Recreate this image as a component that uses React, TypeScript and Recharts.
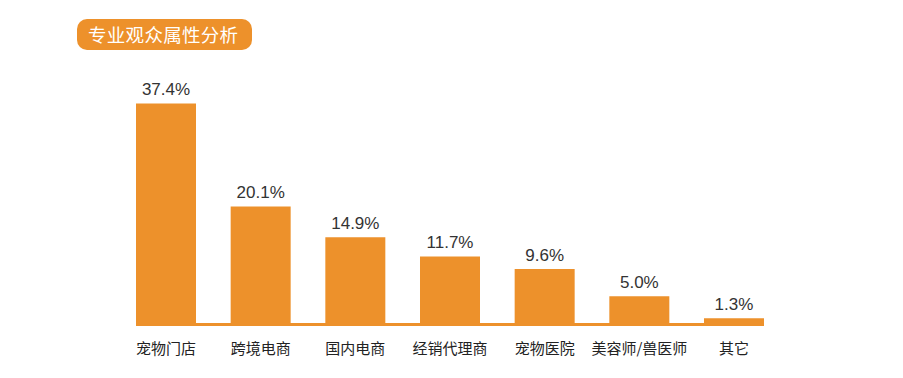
import React from 'react'
import { BarChart, Bar, XAxis, YAxis, LabelList, ReferenceLine } from 'recharts'

const categories = ['宠物门店', '跨境电商', '国内电商', '经销代理商', '宠物医院', '美容师/兽医师', '其它']
const shares = [37.4, 20.1, 14.9, 11.7, 9.6, 5.0, 1.3]

const ORANGE = '#ED912B'
const FONT = '"Liberation Sans", Arial, "Noto Sans CJK SC", sans-serif'
const BAR_W = 60

const data = categories.map((name, i) => ({ name, value: shares[i] }))

// horizontal baseline running from first bar's left edge to last bar's right edge
const BaseLine = (props: any) => {
  const { x1, x2, y1 } = props
  return <line x1={x1 - BAR_W / 2} x2={x2 + BAR_W / 2} y1={y1 - 1.5} y2={y1 - 1.5} stroke={ORANGE} strokeWidth={3} />
}

export default function App() {
  return (
    <div style={{ position: 'absolute', left: 0, top: 0, width: 903, height: 378, background: '#fff', fontFamily: FONT }}>
      <div
        style={{
          position: 'absolute',
          left: 77,
          top: 19,
          width: 175,
          height: 31,
          borderRadius: 10,
          background: ORANGE,
          color: '#fff',
          fontSize: 18.5,
          letterSpacing: 0.3,
          lineHeight: '31px',
          paddingLeft: 11,
          boxSizing: 'border-box',
          fontFamily: '"Noto Sans CJK SC", sans-serif',
        }}
      >
        专业观众属性分析
      </div>
      <BarChart
        width={903}
        height={378}
        data={data}
        margin={{ top: 88, right: 121.67, left: 118.67, bottom: 12 }}
        barCategoryGap={17.33}
      >
        <XAxis
          dataKey="name"
          axisLine={false}
          tickLine={false}
          tickSize={0}
          tickMargin={17}
          height={40}
          interval={0}
          tick={{ fill: '#222', fontSize: 15, fontFamily: '"Noto Sans CJK SC", sans-serif' }}
        />
        <YAxis hide domain={[0, 40]} />
        <Bar dataKey="value" fill={ORANGE} isAnimationActive={false}>
          <LabelList
            dataKey="value"
            position="top"
            offset={8}
            formatter={(v: any) => `${Number(v).toFixed(1)}%`}
            style={{ fill: '#333', fontSize: 17, fontFamily: FONT }}
          />
        </Bar>
        <ReferenceLine
          segment={[
            { x: categories[0], y: 0 },
            { x: categories[categories.length - 1], y: 0 },
          ]}
          shape={BaseLine}
        />
      </BarChart>
    </div>
  )
}
